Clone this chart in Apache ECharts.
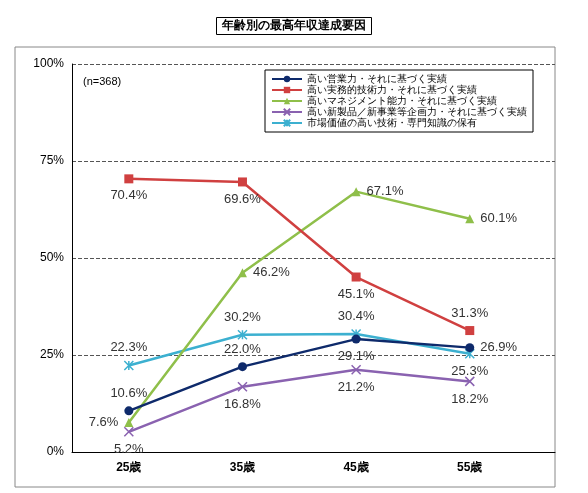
<!DOCTYPE html><html><head><meta charset="utf-8"><script src="https://cdn.jsdelivr.net/npm/echarts@6/dist/echarts.min.js"></script></head><body style="margin:0"><div id="c" style="width:588px;height:493px"></div><script>
const categories=['25歳','35歳','45歳','55歳'];
const names=['高い営業力・それに基づく実績','高い実務的技術力・それに基づく実績','高いマネジメント能力・それに基づく実績','高い新製品／新事業等企画力・それに基づく実績','市場価値の高い技術・専門知識の保有'];
const sales=[10.6,22.0,29.1,26.9];
const tech=[70.4,69.6,45.1,31.3];
const mgmt=[7.6,46.2,67.1,60.1];
const plan=[5.2,16.8,21.2,18.2];
const market=[22.3,30.2,30.4,25.3];
const yTicks=[0,25,50,75,100];
const colors=['#0e2a6b','#d04040','#8fbf4a','#8a62b0','#3cb0d0'];
const symbols=['circle','rect','triangle','path://M0,0L10,10M10,0L0,10','path://M0,0L10,10M10,0L0,10M5,0L5,10'];
const pos=[['top','top','bottom','right'],['bottom','bottom','bottom','top'],['left','right','right','right'],['bottom','bottom','bottom','bottom'],['top','top','top','bottom']];
const all=[sales,tech,mgmt,plan,market];
const series=all.map((d,i)=>({name:names[i],type:'line',data:d.map((v,j)=>({value:[j+1,v],label:{position:pos[i][j]}})),
 symbol:symbols[i],symbolSize:9,lineStyle:{width:2.5,color:colors[i]},itemStyle:{color:colors[i],borderColor:colors[i],borderWidth:i>=3?1.5:0},
 label:{show:true,formatter:p=>p.value[1].toFixed(1)+'%',color:'#333',fontSize:13,distance:6},z:10-i}));
echarts.init(document.getElementById('c')).setOption({
 animation:false,
 title:{text:'年齢別の最高年収達成要因',left:'center',top:17,textStyle:{fontSize:12,fontWeight:'bold',color:'#000'},borderColor:'#000',borderWidth:1,padding:[3,6]},
 graphic:[{type:'rect',shape:{x:15,y:47,width:540,height:440},style:{fill:'none',stroke:'#888',lineWidth:1}},
  {type:'text',left:83,top:76,style:{text:'(n=368)',fontSize:11,fill:'#000'}}],
 legend:{left:265,top:70,orient:'vertical',itemGap:1,itemWidth:30,itemHeight:8,borderColor:'#000',borderWidth:1,padding:[4,6],textStyle:{fontSize:10,color:'#000'},data:names},
 grid:{left:72,right:33,top:64,bottom:41},
 xAxis:{type:'value',min:0.5,max:4.75,axisLine:{show:true,lineStyle:{color:'#000'}},splitLine:{show:false},
  axisTick:{show:false},axisLabel:{customValues:[1,2,3,4],formatter:v=>categories[v-1],color:'#000',fontSize:12,fontWeight:'bold',margin:10}},
 yAxis:{type:'value',min:0,max:100,interval:25,axisLine:{show:true,lineStyle:{color:'#000'}},axisTick:{show:false},
  axisLabel:{formatter:v=>yTicks.includes(v)?v+'%':'',color:'#000',fontSize:12},splitLine:{lineStyle:{color:'#555',type:'dashed'}}},
 series
});
</script></body></html>
